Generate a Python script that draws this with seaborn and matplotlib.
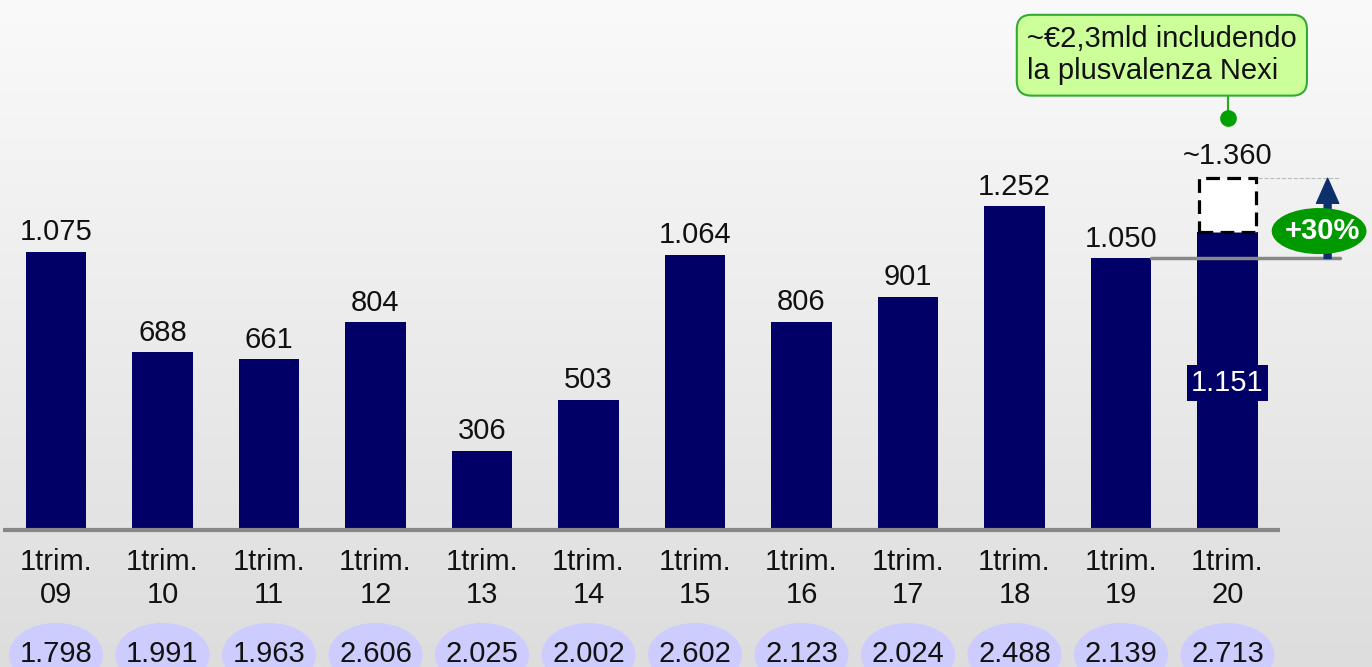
import numpy as np
import pandas as pd
import matplotlib
matplotlib.use("Agg")
import matplotlib.pyplot as plt
import seaborn as sns
from matplotlib.patches import Ellipse, Rectangle
from matplotlib.colors import LinearSegmentedColormap

# ---- data ----
years = ["09", "10", "11", "12", "13", "14", "15", "16", "17", "18", "19", "20"]
values = [1075, 688, 661, 804, 306, 503, 1064, 806, 901, 1252, 1050, 1151]
value_labels = ["1.075", "688", "661", "804", "306", "503", "1.064", "806", "901", "1.252", "1.050", "1.151"]
totals = ["1.798", "1.991", "1.963", "2.606", "2.025", "2.002", "2.602", "2.123", "2.024", "2.488", "2.139", "2.713"]
estimate_value = 1360
estimate_label = "~1.360"
growth_label = "+30%"
note_text = "~€2,3mld includendo\nla plusvalenza Nexi"

sns.set_theme(style="white")
plt.rcParams['font.family'] = ['Liberation Sans', 'DejaVu Sans']

NAVY = "#000066"
fig = plt.figure(figsize=(13.72, 6.67), dpi=100)
ax = fig.add_axes([0, 0, 1, 1])

xmin, xmax = -56 / 106.5, (1372 - 56) / 106.5
ymin, ymax = -(667 - 530) * 3.867, 530 * 3.867

# gradient background (light at top, darker at bottom)
grad = np.linspace(0, 1, 256).reshape(-1, 1)
cmap = LinearSegmentedColormap.from_list("bg", ["#fafafa", "#dddddd"])
ax.imshow(grad, extent=[xmin, xmax, ymin, ymax], aspect="auto", cmap=cmap, zorder=0, origin="upper")

df = pd.DataFrame({"cat": ["1trim.\n" + y for y in years], "val": values})
sns.barplot(data=df, x="cat", y="val", color=NAVY, saturation=1, width=0.57, ax=ax, zorder=2,
            linewidth=0, edgecolor="none")

ax.set_xlim(xmin, xmax)
ax.set_ylim(ymin, ymax)
ax.axis("off")

FS = 21
bw = 0.57
# value labels
for i, (v, lab) in enumerate(zip(values, value_labels)):
    if i == len(values) - 1:
        ax.text(i, 568, lab, ha="center", va="center", color="white", fontsize=FS, zorder=6,
                bbox=dict(boxstyle="square,pad=0.15", fc=NAVY, ec="none"))
    else:
        ax.annotate(lab, (i, v), xytext=(0, 4), textcoords="offset points", ha="center", va="bottom",
                    fontsize=FS, color="#111111", zorder=5)

# category labels
for i, y in enumerate(years):
    ax.text(i, -188, "1trim.\n" + y, ha="center", va="center", fontsize=FS, color="#111111",
            linespacing=1.2, zorder=5)

# total ellipses
for i, t in enumerate(totals):
    ax.add_patch(Ellipse((i, -483), 0.883, 247, fc="#ccccff", ec="none", zorder=3))
    ax.text(i, -480, t, ha="center", va="center", fontsize=FS, color="#111111", zorder=4)

# baseline
ax.plot([(3 - 56) / 106.5, (1280 - 56) / 106.5], [0, 0], color="#888888", lw=3, zorder=4,
        solid_capstyle="butt")

last = len(values) - 1
# dashed estimate box
ax.add_patch(Rectangle((last - bw / 2 + 0.02, values[last]), bw - 0.04, estimate_value - values[last],
                       fc="white", ec="black", lw=2.3, ls=(0, (4.3, 2.3)), zorder=4))
ax.annotate(estimate_label, (last, estimate_value), xytext=(0, 6), textcoords="offset points",
            ha="center", va="bottom", fontsize=FS, color="#111111", zorder=5)

# reference lines
ax.plot([last - 1 + bw / 2, 12.06], [values[last - 1]] * 2, color="#888888", lw=2.5, zorder=3)
ax.plot([last + bw / 2, 12.06], [estimate_value] * 2, color="#bbbbbb", lw=0.8, ls="--", zorder=3)

# arrow
ax.annotate("", xy=(11.94, estimate_value), xytext=(11.94, values[last - 1]),
            arrowprops=dict(width=5, headwidth=16, headlength=18, color="#0d2f6b",
                            shrink=0), zorder=5)
ax.add_patch(Ellipse((11.86, 1156), 0.89, 178, fc="#009900", ec="none", zorder=6))
ax.text(11.89, 1156, growth_label, ha="center", va="center", fontsize=21, fontweight="bold",
        color="white", zorder=7)

# note callout
ax.plot([last, last], [1694, 1593], color="#22aa22", lw=1.5, zorder=5)
ax.plot([last], [1593], "o", color="#00a000", ms=11, zorder=6)
ax.text((1027 - 56) / 106.5, 1836, note_text, ha="left", va="center", fontsize=FS, color="#111111",
        linespacing=1.2, zorder=7,
        bbox=dict(boxstyle="round,pad=0.35,rounding_size=0.5", fc="#ccff99", ec="#33aa33", lw=1.5))

fig.savefig("out.png", dpi=100)
